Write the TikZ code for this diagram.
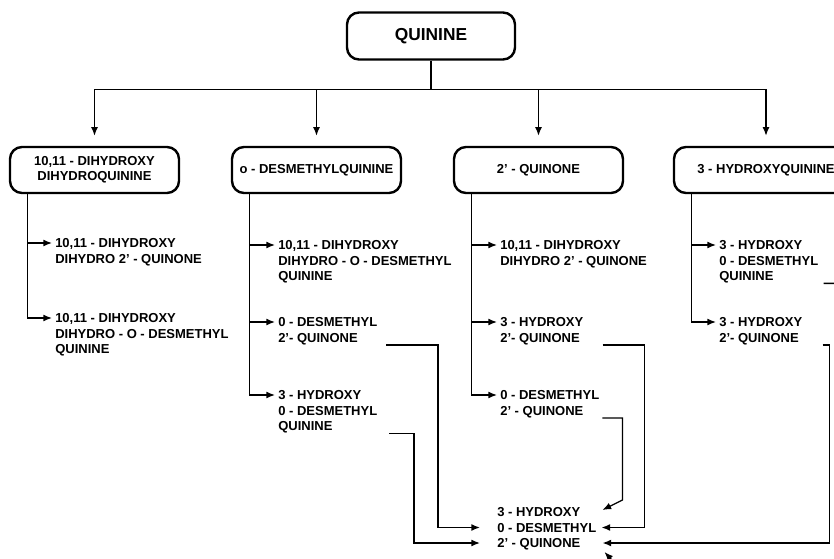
\documentclass[tikz,border=0pt]{standalone}
\usepackage{fontspec}
\setmainfont{Liberation Sans}
\usetikzlibrary{arrows.meta, calc}

\begin{document}
\begin{tikzpicture}[
  x=0.75pt, y=-0.75pt,
  box/.style={draw, line width=1.8pt, rounded corners=9pt, align=center,
    minimum width=126.75pt, minimum height=34.5pt, inner sep=1pt,
    font=\fontsize{9.75pt}{11.6pt}\selectfont\bfseries},
  item/.style={anchor=north west, inner sep=0pt, align=left,
    font=\fontsize{9.75pt}{11.6pt}\selectfont\bfseries},
  link/.style={line width=1pt},
  arr/.style={line width=1pt, -{Latex[length=6.5pt,width=5.2pt]}}
]
\useasboundingbox (0,0) rectangle (834,559);
\clip (0,0) rectangle (834,559);

% parent and first level
\node[box, minimum width=126pt, minimum height=35.25pt,
  font=\fontsize{13pt}{15pt}\selectfont\bfseries] (q) at (431,36) {QUININE};
\node[box] (b1) at (94.5,170) {10,11 - DIHYDROXY\\DIHYDROQUININE};
\node[box] (b2) at (316.5,170) {o - DESMETHYLQUININE};
\node[box] (b3) at (538.5,170) {2' - QUINONE};
\node[box, minimum width=138pt] (b4) at (766,170) {3 - HYDROXYQUININE};

\draw[link] (q.south) -- ++(0,28.5) coordinate (bus);
\draw[link] (b1.north |- bus) -- (b4.north |- bus);
\foreach \b in {b1,b2,b3,b4}
  \draw[arr, shorten >=7.5pt] (\b.north |- bus) -- (\b.north);

% products
\node[item] (t11) at (55,238.3) {10,11 - DIHYDROXY\\DIHYDRO 2' - QUINONE};
\node[item] (t12) at (55,313.3) {10,11 - DIHYDROXY\\DIHYDRO - O - DESMETHYL\\QUININE};

\node[item] (t21) at (278,240.3) {10,11 - DIHYDROXY\\DIHYDRO - O - DESMETHYL\\QUININE};
\node[item] (t22) at (278,317.3) {0 - DESMETHYL\\2'- QUINONE};
\node[item] (t23) at (278,390.3) {3 - HYDROXY\\0 - DESMETHYL\\QUININE};

\node[item] (t31) at (500,240.3) {10,11 - DIHYDROXY\\DIHYDRO 2' - QUINONE};
\node[item] (t32) at (500,317.3) {3 - HYDROXY\\2'- QUINONE};
\node[item] (t33) at (500,390.3) {0 - DESMETHYL\\2' - QUINONE};

\node[item] (t41) at (719,240.3) {3 - HYDROXY\\0 - DESMETHYL\\QUININE};
\node[item] (t42) at (719,317.3) {3 - HYDROXY\\2'- QUINONE};

\node[item] (T) at (497,507.3) {3 - HYDROXY\\0 - DESMETHYL\\2' - QUINONE};

% spines
\foreach \b in {1,2,3,4}
  \coordinate (s\b) at ($(b\b.south west)+(19,0)$);
\foreach \s/\t in {s1/t11, s2/t21, s2/t22, s3/t31, s3/t32, s4/t41}
  \draw[arr] ($(\s |- \t.north west)+(0,4.7)$) -- ($(\t.north west)+(-3,4.7)$);
\foreach \s/\t in {s1/t12, s2/t23, s3/t33, s4/t42}
  \draw[arr] (\s) |- ($(\t.north west)+(-3,4.7)$);

% routes to the common product
\draw[arr] ($(t22.south east)+(9,0)$) -| ($(T.north west)+(-59,20.2)$) -- ($(T.north west)+(-17,20.2)$);
\draw[arr] ($(t23.south east)+(12,0)$) -| ($(T.north west)+(-83,35.7)$) -- ($(T.north west)+(-17,35.7)$);
\draw[arr] ($(t32.south east)+(19,0)$) -| ($(T.north east)+(48,20.2)$) -- ($(T.north east)+(5,20.2)$);
\draw[arr] ($(t33.south east)+(3,0)$) -| ($(T.north east)+(26,-7.3)$) -- ($(T.north east)+(6,2.7)$);
\draw[arr] ($(t42.south east)+(20,0)$) -| ($(T.north east)+(233,35.7)$) -- ($(T.north east)+(6,35.7)$);
\draw[arr] ($(t41.south east)+(5,0)$) -- ++(40,0) |- ($(T.north east)+(33,71.7)$) -- ($(T.north east)+(8,44.7)$);

\end{tikzpicture}
\end{document}
